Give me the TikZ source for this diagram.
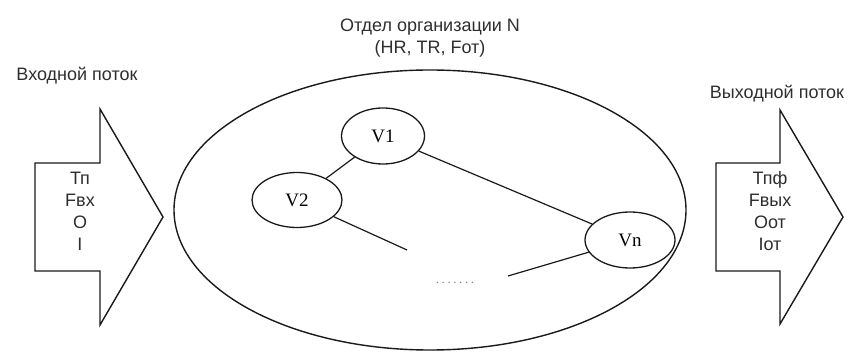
\documentclass[tikz,border=0pt]{standalone}
\usepackage{fontspec}
\setmainfont{Liberation Sans}
\newfontfamily\serifv{Liberation Serif}
\usetikzlibrary{shapes.geometric}
\definecolor{txt}{HTML}{2E2E2E}
\definecolor{ln}{HTML}{1A1A1A}
\begin{document}
\begin{tikzpicture}[x=1pt,y=-1pt,
  lbl/.style={font=\fontsize{18}{22}\selectfont, text=txt, inner sep=0pt, align=center},
  vnode/.style={draw=ln, line width=1.3pt, ellipse, inner sep=0pt, font=\serifv\fontsize{19}{22}\selectfont, text=black},
  conn/.style={draw=ln, line width=1.2pt},
  flow/.style={draw=ln, line width=1.4pt, fill=white}]
\useasboundingbox (0,0) rectangle (850,352);
% outer ellipse
\node[draw=ln, line width=1.4pt, ellipse, minimum width=512pt, minimum height=280pt, inner sep=0pt] (org) at (430,210) {};
% arrows
\draw[flow] (35,163) -- (100,163) -- (100,109) -- (163,217) -- (100,325) -- (100,271) -- (35,271) -- cycle;
\draw[flow] (716,163) -- (780,163) -- (780,110) -- (843,217) -- (780,324) -- (780,271) -- (716,271) -- cycle;
% labels
\node[lbl] (inlbl) at (77,76) {Входной поток};
\node[lbl] (outlbl) at (777,94) {Выходной поток};
\node[lbl] (title) at (430,38.5) {Отдел организации N\\(HR, TR, Fот)};
\node[lbl] (intxt) at (80,211.5) {Тп\\Fвх\\O\\I};
\node[lbl] (outtxt) at (770,211) {Тпф\\Fвых\\Oот\\Iот};
% vertices
\node[vnode, minimum width=83pt, minimum height=56pt] (V1) at (383,136) {V1};
\node[vnode, minimum width=90pt, minimum height=55pt] (V2) at (297,200) {V2};
\node[vnode, minimum width=90pt, minimum height=56pt] (Vn) at (630,240) {Vn};
\coordinate (e1) at (407,250);
\coordinate (e2) at (508,276);
\draw[conn] (V1) -- (V2);
\draw[conn] (V1) -- (Vn);
\draw[conn] (V2) -- (e1);
\draw[conn] (Vn) -- (e2);
\node[text=gray, inner sep=0pt, font=\serifv\fontsize{13}{16}\selectfont] (dots) at (455,283) {.\kern2.6pt.\kern2.6pt.\kern2.6pt.\kern2.6pt.\kern2.6pt.\kern2.6pt.};
\end{tikzpicture}
\end{document}
